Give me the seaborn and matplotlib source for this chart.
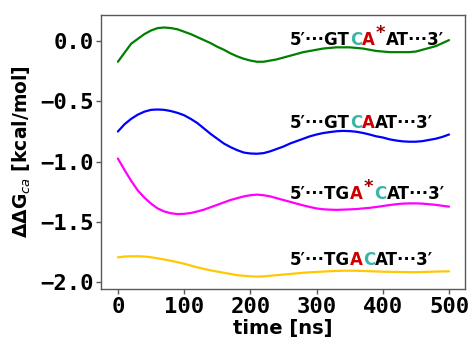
import numpy as np
import pandas as pd
import matplotlib
matplotlib.use("Agg")
import matplotlib.pyplot as plt
import seaborn as sns

# time axis (ns) and the four Delta Delta G curves
time_ns = list(range(0, 501, 10))

ddg_gtca_star = [-0.17, -0.095, -0.02, 0.02, 0.06, 0.09, 0.11, 0.115, 0.11, 0.10,
                 0.08, 0.06, 0.035, 0.01, -0.015, -0.045, -0.07, -0.10, -0.125, -0.145,
                 -0.16, -0.17, -0.17, -0.16, -0.15, -0.135, -0.12, -0.105, -0.09, -0.08,
                 -0.07, -0.06, -0.055, -0.05, -0.05, -0.05, -0.055, -0.06, -0.07, -0.08,
                 -0.085, -0.09, -0.09, -0.09, -0.09, -0.085, -0.07, -0.055, -0.04, -0.015,
                 0.01]
ddg_gtcaat = [-0.75, -0.69, -0.645, -0.61, -0.585, -0.57, -0.567, -0.57, -0.58, -0.595,
              -0.615, -0.645, -0.68, -0.725, -0.77, -0.81, -0.85, -0.88, -0.905, -0.925,
              -0.933, -0.935, -0.93, -0.915, -0.895, -0.875, -0.85, -0.83, -0.81, -0.79,
              -0.775, -0.763, -0.755, -0.748, -0.745, -0.747, -0.752, -0.762, -0.775, -0.79,
              -0.80, -0.815, -0.825, -0.832, -0.835, -0.835, -0.83, -0.82, -0.81, -0.795,
              -0.775]
ddg_tga_star = [-0.975, -1.07, -1.16, -1.24, -1.30, -1.35, -1.39, -1.415, -1.43, -1.437,
                -1.435, -1.428, -1.415, -1.40, -1.38, -1.36, -1.34, -1.32, -1.305, -1.29,
                -1.28, -1.275, -1.28, -1.29, -1.305, -1.32, -1.335, -1.35, -1.365, -1.378,
                -1.39, -1.397, -1.40, -1.402, -1.40, -1.398, -1.395, -1.39, -1.385, -1.378,
                -1.37, -1.362, -1.355, -1.35, -1.348, -1.348, -1.35, -1.355, -1.36, -1.368,
                -1.375]
ddg_tgacat = [-1.797, -1.79, -1.788, -1.788, -1.79, -1.796, -1.805, -1.815, -1.825, -1.837,
              -1.85, -1.865, -1.88, -1.893, -1.905, -1.915, -1.925, -1.935, -1.945, -1.95,
              -1.955, -1.957, -1.955, -1.95, -1.945, -1.94, -1.935, -1.93, -1.925, -1.921,
              -1.918, -1.915, -1.912, -1.91, -1.908, -1.908, -1.908, -1.91, -1.912, -1.914,
              -1.916, -1.917, -1.918, -1.919, -1.92, -1.92, -1.918, -1.917, -1.915, -1.914,
              -1.913]

line_colors = ["green", "blue", "magenta", "#ffc800"]

# sequence labels: pieces of text with their colours ("*" is drawn raised)
BLK, TEAL, RED, STAR = "black", "#3bb5a5", "#cc0000", "#990000"
seq_labels = [
    [("5′···GT", BLK), ("C", TEAL), ("A", RED), ("*", STAR), ("AT···3′", BLK)],
    [("5′···GT", BLK), ("C", TEAL), ("A", RED), ("AT···3′", BLK)],
    [("5′···TG", BLK), ("A", RED), ("*", STAR), ("C", TEAL), ("AT···3′", BLK)],
    [("5′···TG", BLK), ("A", RED), ("C", TEAL), ("AT···3′", BLK)],
]
label_x = 260
label_y = [-0.027, -0.725, -1.315, -1.86]

sns.set_style("ticks")
plt.rcParams["font.family"] = ["DejaVu Sans"]
plt.rcParams["mathtext.fontset"] = "dejavusans"
plt.rcParams["text.color"] = "black"
plt.rcParams["axes.labelcolor"] = "black"
plt.rcParams["xtick.color"] = "black"
plt.rcParams["ytick.color"] = "black"

fig = plt.figure(figsize=(4.72, 3.38), dpi=100)
ax = fig.add_axes([0.214, 0.145, 0.771, 0.811])

series = [ddg_gtca_star, ddg_gtcaat, ddg_tga_star, ddg_tgacat]
for vals, col in zip(series, line_colors):
    sns.lineplot(x=time_ns, y=vals, color=col, lw=1.6, ax=ax)

# multicoloured labels, chained piece by piece
for pieces, y in zip(seq_labels, label_y):
    prev = None
    after_star = False
    for txt, col in pieces:
        if prev is None:
            prev = ax.text(label_x, y, txt, color=col, fontsize=12,
                           fontweight="bold", va="baseline", ha="left")
            continue
        if txt == "*":
            ax.annotate(txt, xy=(1, 1), xycoords=prev, xytext=(0.5, 5),
                        textcoords="offset points", color=col, fontsize=13,
                        fontweight="bold", va="top", ha="left")
            after_star = True
            continue
        dx = 8.0 if after_star else 0
        prev = ax.annotate(txt, xy=(1, 0), xycoords=prev, xytext=(dx, 0),
                           textcoords="offset points", color=col, fontsize=12,
                           fontweight="bold", va="bottom", ha="left")
        after_star = False

ax.set_xlim(-25.5, 524)
ax.set_ylim(-2.06, 0.22)
ax.set_xticks([0, 100, 200, 300, 400, 500])
ax.set_yticks([0.0, -0.5, -1.0, -1.5, -2.0])
ax.set_yticklabels(["0.0", "−0.5", "−1.0", "−1.5", "−2.0"])

for lab in ax.get_xticklabels() + ax.get_yticklabels():
    lab.set_fontfamily("DejaVu Sans Mono")
    lab.set_fontweight("bold")
    lab.set_fontsize(16)
    lab.set_color("black")

ax.set_xlabel("time [ns]", fontsize=14, fontweight="bold", labelpad=2)
ax.set_ylabel(r"ΔΔG$_{ca}$ [kcal/mol]", fontsize=13.5, fontweight="bold", labelpad=5)

for sp in ax.spines.values():
    sp.set_color("0.35")
    sp.set_linewidth(1.0)
ax.tick_params(length=3.5, width=1, color="0.35", pad=2)

fig.savefig("out.png", dpi=100)
